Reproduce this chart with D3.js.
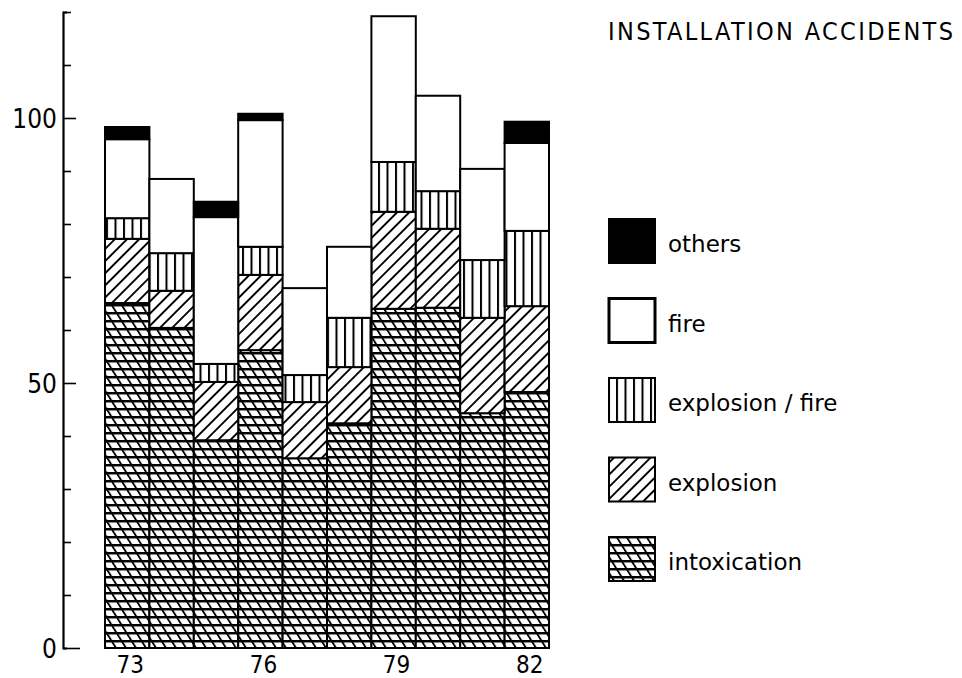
<!DOCTYPE html>
<html><head><meta charset="utf-8">
<script src="https://cdn.jsdelivr.net/npm/d3@7"></script>
<style>body{margin:0;background:#fff} svg{display:block}</style>
</head><body>
<svg id="c" width="962" height="678"></svg>
<script>
// ---- data ----
const years = ["73","74","75","76","77","78","79","80","81","82"];
const intoxication  = [65.1, 60.4, 39.2, 56.2, 35.8, 42.4, 64.0, 64.2, 44.3, 48.3];
const explosion     = [12.1,  7.0, 11.0, 14.2, 10.6, 10.6, 18.3, 14.9, 18.0, 16.2];
const explosionFire = [ 3.9,  7.1,  3.4,  5.3,  5.1,  9.3,  9.4,  7.1, 10.9, 14.2];
const fire          = [14.9, 14.0, 27.7, 23.9, 16.4, 13.4, 27.5, 18.0, 17.2, 16.6];
const others        = [ 2.3,  0.0,  2.9,  1.2,  0.0,  0.0,  0.0,  0.0,  0.0,  4.0];
const seriesKeys   = ["intoxication","explosion","explosionFire","fire","others"];
const legendLabels = ["others","fire","explosion / fire","explosion","intoxication"];
const yTickValues  = [0,10,20,30,40,50,60,70,80,90,100,110,120];
const yLabelValues = [0,50,100];
const xLabelValues = ["73","76","79","82"];
const title = "INSTALLATION ACCIDENTS";

// ---- build table ----
const table = years.map((yr,i)=>({year:yr, intoxication:intoxication[i], explosion:explosion[i],
  explosionFire:explosionFire[i], fire:fire[i], others:others[i]}));
const stacked = d3.stack().keys(seriesKeys)(table);

const svg = d3.select("#c");
const x = d3.scaleBand().domain(years).range([105,549]).padding(0);
const y = d3.scaleLinear().domain([0,120]).range([648,12]);

// ---- patterns ----
const defs = svg.append("defs");
const pI = defs.append("pattern").attr("id","p-intox").attr("patternUnits","userSpaceOnUse")
  .attr("width",10).attr("height",8).attr("patternTransform","skewX(32)");
pI.append("rect").attr("width",10).attr("height",8).attr("fill","#fff");
pI.append("rect").attr("x",0).attr("y",0).attr("width",10).attr("height",2.5).attr("fill","#000");
pI.append("rect").attr("x",0).attr("y",0).attr("width",2.2).attr("height",8).attr("fill","#000");

const pE = defs.append("pattern").attr("id","p-expl").attr("patternUnits","userSpaceOnUse")
  .attr("width",8.6).attr("height",8.6).attr("patternTransform","rotate(45)");
pE.append("rect").attr("width",8.6).attr("height",8.6).attr("fill","#fff");
pE.append("rect").attr("x",0).attr("width",1.9).attr("height",8.6).attr("fill","#000");

const pV = defs.append("pattern").attr("id","p-vert").attr("patternUnits","userSpaceOnUse")
  .attr("width",8.5).attr("height",10).attr("x",4);
pV.append("rect").attr("width",8.5).attr("height",10).attr("fill","#fff");
pV.append("rect").attr("x",0).attr("width",2).attr("height",10).attr("fill","#000");

const fills = {intoxication:"url(#p-intox)", explosion:"url(#p-expl)", explosionFire:"url(#p-vert)", fire:"#fff", others:"#000"};

// ---- bars ----
const g = svg.append("g");
stacked.forEach(layer=>{
  g.append("g").selectAll("rect").data(layer.filter(d=>d[1]-d[0]>0)).join("rect")
    .attr("x",d=>x(d.data.year))
    .attr("y",d=>y(d[1]))
    .attr("width",x.bandwidth())
    .attr("height",d=>y(d[0])-y(d[1]))
    .attr("fill",fills[layer.key])
    .attr("stroke","#000").attr("stroke-width",2);
});

// ---- y axis ----
const yAxis = svg.append("g").attr("transform","translate(63,0)")
  .call(d3.axisRight(y).tickValues(yTickValues).tickSize(8).tickSizeOuter(4).tickFormat(""));
yAxis.select(".domain").attr("stroke-width",2.2);
yAxis.selectAll(".tick line").attr("stroke-width",1.6)
  .attr("x2",d=>d===0?17:(d===50||d===100?13:8));
const yLab = svg.append("g").attr("transform","translate(57,0)")
  .call(d3.axisLeft(y).tickValues(yLabelValues).tickSize(0).tickPadding(0));
yLab.select(".domain").remove();
yLab.selectAll("text").attr("font-family","DejaVu Sans Condensed, DejaVu Sans").attr("font-size",26).attr("fill","#000").attr("dy","0.36em");

// ---- x labels ----
const xLab = svg.append("g").attr("transform","translate(3,648)")
  .call(d3.axisBottom(x).tickValues(xLabelValues).tickSize(0).tickPadding(0));
xLab.select(".domain").remove();
xLab.selectAll("text").attr("font-family","DejaVu Sans Condensed, DejaVu Sans").attr("font-size",24)
  .attr("fill","#000").attr("dy",null).attr("y",25);

// ---- title ----
svg.append("text").attr("x",608).attr("y",40).text(title)
  .attr("font-family","DejaVu Sans Condensed, DejaVu Sans").attr("font-size",25).attr("fill","#000")
  .attr("textLength",345).attr("lengthAdjust","spacing");

// ---- legend ----
const legKeys = ["others","fire","explosionFire","explosion","intoxication"];
const leg = svg.append("g");
legKeys.forEach((k,i)=>{
  const top = 219 + i*79.5;
  leg.append("rect").attr("x",609).attr("y",top).attr("width",46).attr("height",44)
    .attr("fill",fills[k]).attr("stroke","#000").attr("stroke-width",k==="fire"?3:2);
  leg.append("text").attr("x",668).attr("y",top+33).text(legendLabels[i])
    .attr("font-family","DejaVu Sans").attr("font-size",23).attr("fill","#000");
});
</script>
</body></html>
